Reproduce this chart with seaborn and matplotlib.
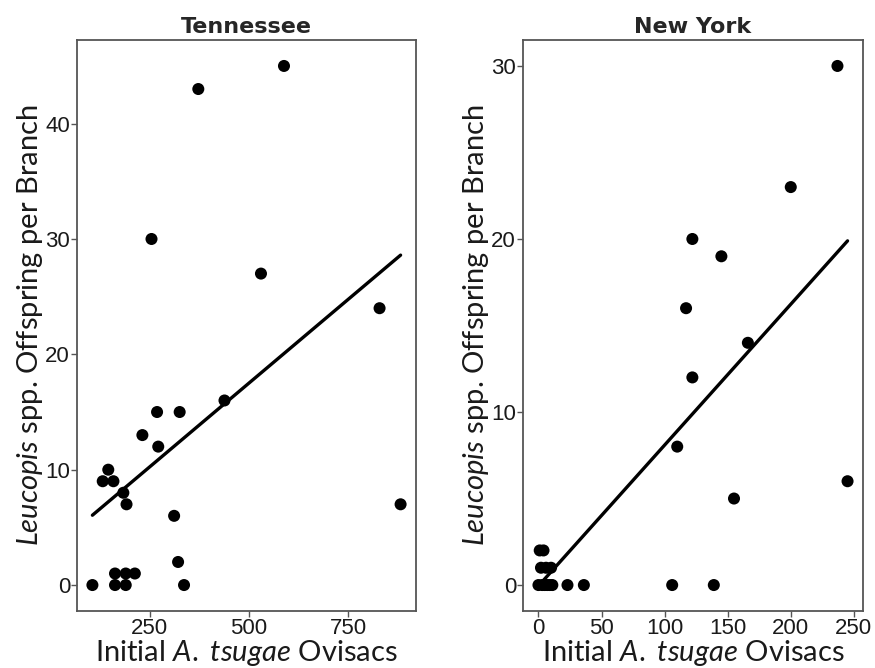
import matplotlib
matplotlib.use("Agg")
import matplotlib.pyplot as plt
import seaborn as sns
import numpy as np
import pandas as pd

# ---- data ----
tn_ovisacs = [105, 162, 189, 336, 162, 189, 212, 321, 311, 191, 183, 131, 158, 145,
              271, 231, 268, 325, 438, 254, 530, 588, 372, 829, 882]
tn_offspring = [0, 0, 0, 0, 1, 1, 1, 2, 6, 7, 8, 9, 9, 10,
                12, 13, 15, 15, 16, 30, 27, 45, 43, 24, 7]

ny_ovisacs = [0, 3, 5, 7, 9, 11, 23, 36, 106, 139, 2, 6, 10, 1, 4,
              110, 117, 122, 122, 145, 155, 166, 200, 237, 245]
ny_offspring = [0, 0, 0, 0, 0, 0, 0, 0, 0, 0, 1, 1, 1, 2, 2,
                8, 16, 12, 20, 19, 5, 14, 23, 30, 6]

panel_titles = ["Tennessee", "New York"]
tn_xticks = [250, 500, 750]
tn_yticks = [0, 10, 20, 30, 40]
ny_xticks = [0, 50, 100, 150, 200, 250]
ny_yticks = [0, 10, 20, 30]

sns.set_theme(style="white")
plt.rcParams["font.family"] = ["Liberation Sans", "DejaVu Sans"]
plt.rcParams["mathtext.fontset"] = "custom"
plt.rcParams["mathtext.it"] = "Lato:italic"
plt.rcParams["mathtext.rm"] = "Lato"

fig = plt.figure(figsize=(8.75, 6.68), dpi=100)
ax1 = fig.add_axes([77/875, 57/668, 339/875, 571/668])
ax2 = fig.add_axes([523/875, 57/668, 340/875, 571/668])

xlabel = r"Initial $\mathit{A.}$ $\mathit{tsugae}$ Ovisacs"
ylabel = r"$\mathit{Leucopis}$ spp. Offspring per Branch"

def draw(ax, xs, ys, title, xt, yt):
    df = pd.DataFrame({"x": xs, "y": ys})
    sns.regplot(data=df, x="x", y="y", ax=ax, ci=None, truncate=True,
                scatter_kws=dict(s=75, color="black", edgecolor="none", alpha=1),
                line_kws=dict(color="black", lw=2.4))
    xr = max(xs) - min(xs)
    yr = max(ys) - min(ys)
    ax.set_xlim(min(xs) - 0.05 * xr, max(xs) + 0.05 * xr)
    ax.set_ylim(min(ys) - 0.05 * yr, max(ys) + 0.05 * yr)
    ax.set_xticks(xt)
    ax.set_yticks(yt)
    ax.tick_params(axis="both", which="both", direction="out", length=4, width=1,
                   color="#555555", labelsize=16, labelcolor="#1a1a1a", pad=1,
                   bottom=True, left=True)
    for sp in ax.spines.values():
        sp.set_color("#555555")
        sp.set_linewidth(1.3)
    ax.set_title(title, fontsize=16, fontweight="bold", family="DejaVu Sans", pad=5)
    ax.set_xlabel(xlabel, fontsize=21, family="Lato", labelpad=-1, color="#1a1a1a")
    ax.set_ylabel(ylabel, fontsize=21, family="Lato", labelpad=0, color="#1a1a1a")
    ax.grid(False)

draw(ax1, tn_ovisacs, tn_offspring, panel_titles[0], tn_xticks, tn_yticks)
draw(ax2, ny_ovisacs, ny_offspring, panel_titles[1], ny_xticks, ny_yticks)

fig.savefig("out.png", dpi=100)
